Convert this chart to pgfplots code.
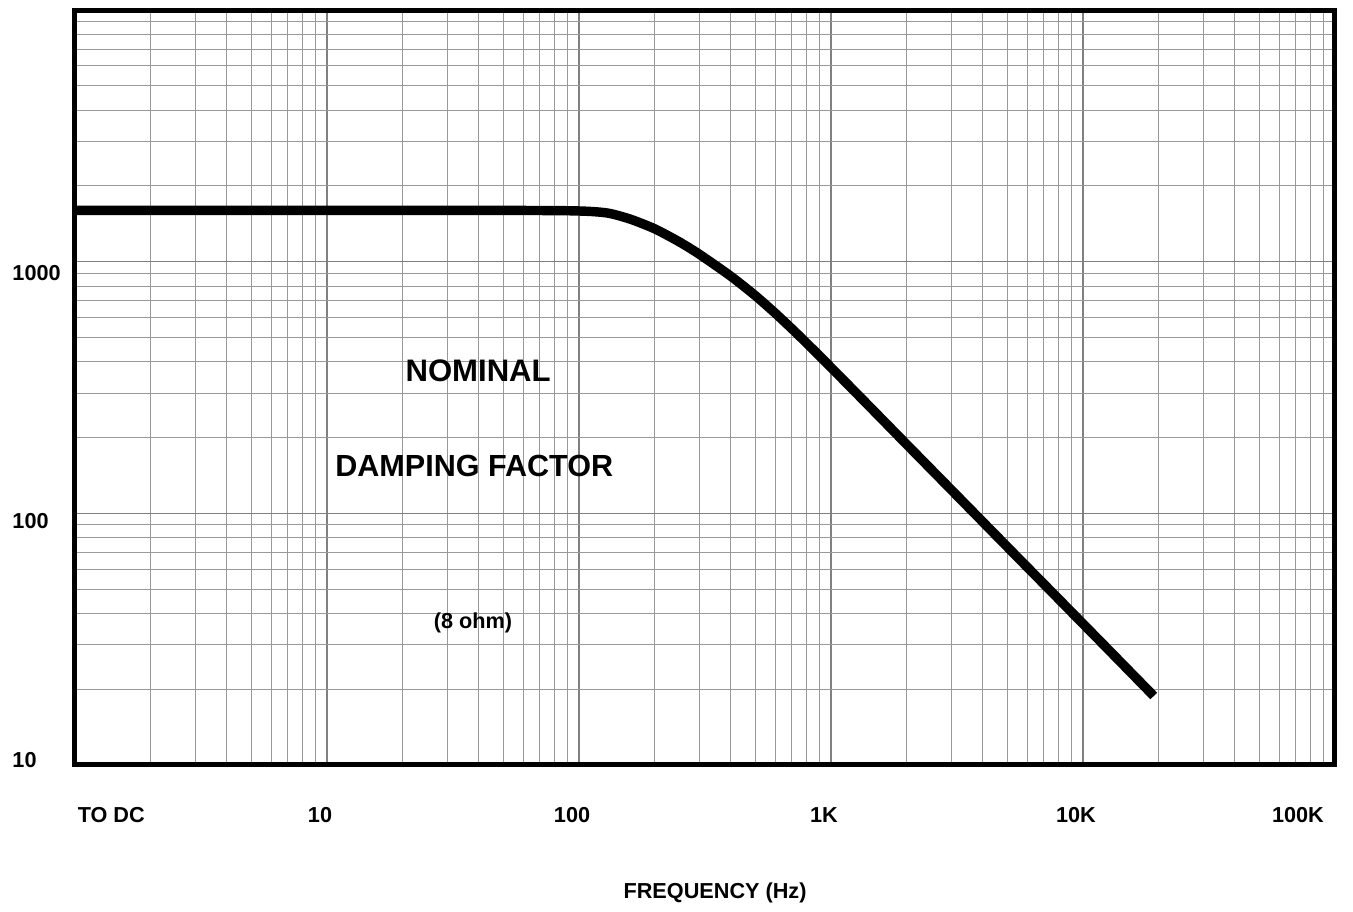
\documentclass[border=0pt]{standalone}
\usepackage{fontspec}
\setmainfont{Liberation Sans}
\usepackage{pgfplots}
\pgfplotsset{compat=1.18}
\begin{document}
\begin{tikzpicture}
\begin{loglogaxis}[
  name=ax, at={(0,0)}, anchor=south west,
  scale only axis, width=453.6pt, height=271.8pt,
  xmin=1, xmax=100000, ymin=10, ymax=10000,
  axis line style={line width=1.8pt, black},
  xtick={1,10,100,1000,10000,100000},
  xticklabels={\rlap{\kern3.5pt TO DC},10,100,1K,10K,\llap{100K\kern1.5pt}},
  ytick={10,100,1000},
  yticklabels={\raisebox{-1pt}{10},\raisebox{-5.3pt}{100},\raisebox{-6.8pt}{1000}},
  minor xtick={2,3,4,5,6,7,8,9,20,30,40,50,60,70,80,90,200,300,400,500,600,700,800,900,2000,3000,4000,5000,6000,7000,8000,9000,20000,30000,40000,50000,60000,70000,80000,90000},
  minor ytick={20,30,40,50,60,70,80,90,200,300,400,500,600,700,800,900,2000,3000,4000,5000,6000,7000,8000,9000},
  grid=both,
  major grid style={black!50, line width=0.4pt},
  minor grid style={black!40, line width=0.35pt},
  major tick length=0pt, minor tick length=0pt,
  tick label style={font=\fontsize{7.8}{9}\selectfont\bfseries},
  xticklabel style={anchor=center, inner sep=0pt, yshift=-18pt, xshift=-2.5pt},
  yticklabel style={anchor=base west, inner sep=0pt, xshift=-22.7pt},
  clip=false,
]
\addplot[black, line width=3.4pt, line join=round, line cap=butt, smooth, tension=0.4] table {
x y
1 1600
50 1598
100 1590
130 1560
160 1475
200 1350
250 1199
300 1071
400 876
500 734
600 625
700 541
800 475
1000 380
1400 270
2000 187.6
3000 124.1
5000 73.7
8000 45.7
12500 29.0
19100 18.8
};
\node[font=\fontsize{11.2}{13}\selectfont\bfseries] at (axis cs:39.8,369) {NOMINAL};
\node[font=\fontsize{11}{13}\selectfont\bfseries] at (axis cs:38.4,154) {DAMPING FACTOR};
\node[font=\fontsize{7.8}{9}\selectfont\bfseries] at (axis cs:38,36.6) {(8 ohm)};
\node[font=\fontsize{7.8}{9}\selectfont\bfseries] at (rel axis cs:0.508,-0.1695) {FREQUENCY (Hz)};
\end{loglogaxis}
\pgfresetboundingbox
\path (-27pt,-52.9pt) rectangle (460.1pt,275.4pt);
\end{tikzpicture}
\end{document}
